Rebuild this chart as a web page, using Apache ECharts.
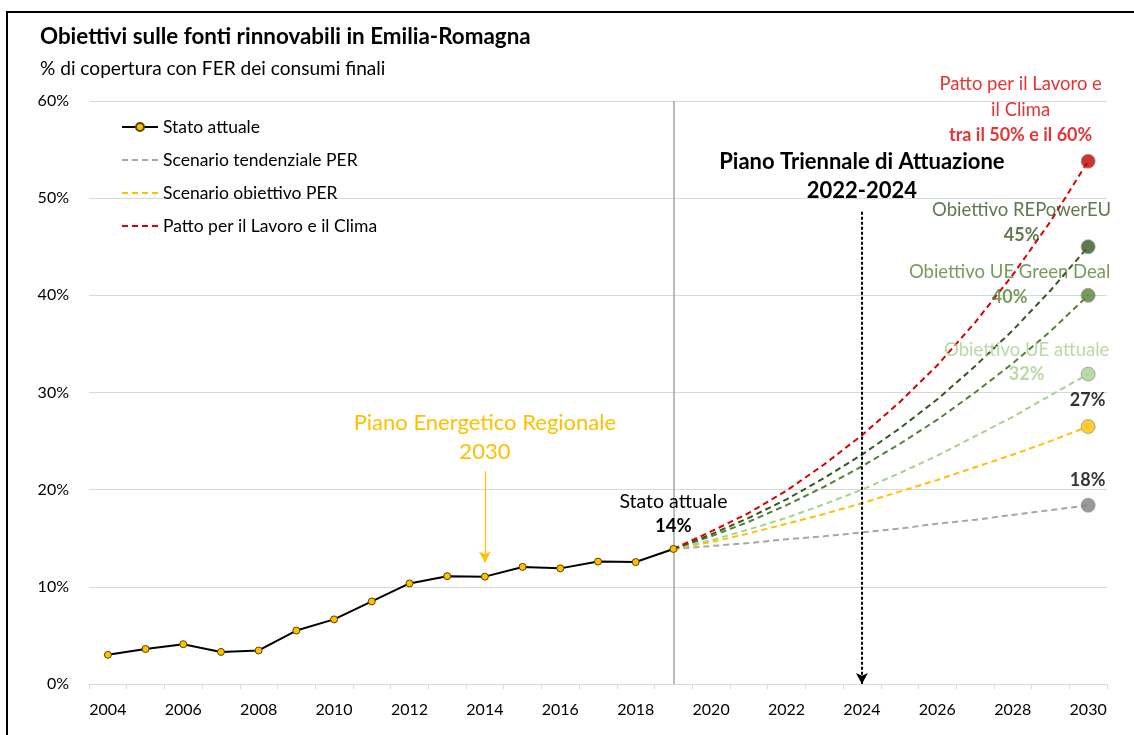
<!DOCTYPE html>
<html>
<head>
<meta charset="utf-8">
<script src="https://cdn.jsdelivr.net/npm/echarts@6/dist/echarts.min.js"></script>
<style>
  html, body { margin: 0; padding: 0; background: #fff; }
  #chart { width: 1134px; height: 735px; }
</style>
</head>
<body>
<div id="chart"></div>
<script>
// Anni sull'asse orizzontale
const years = ['2004','2005','2006','2007','2008','2009','2010','2011','2012','2013','2014','2015','2016','2017','2018','2019',
               '2020','2021','2022','2023','2024','2025','2026','2027','2028','2029','2030'];

// Quota FER sui consumi finali (%), serie storica 2004-2019
const statoAttuale = [3.0, 3.6, 4.1, 3.3, 3.45, 5.5, 6.65, 8.5, 10.35, 11.1, 11.05, 12.05, 11.9, 12.6, 12.55, 13.9];

// Scenari 2019-2030 (%)
const tendenzialePER = [13.9, 14.2, 14.5, 14.9, 15.2, 15.6, 16.0, 16.5, 16.9, 17.4, 17.9, 18.4];
const obiettivoPER   = [13.9, 14.6, 15.5, 16.5, 17.5, 18.6, 19.8, 21.0, 22.3, 23.6, 25.0, 26.5];
const ueAttuale      = [13.9, 14.8, 15.9, 17.1, 18.5, 20.0, 21.7, 23.5, 25.5, 27.5, 29.7, 31.9];
const ueGreenDeal    = [13.9, 15.2, 16.7, 18.4, 20.3, 22.4, 24.7, 27.2, 30.0, 33.0, 36.3, 40.0];
const repowerEU      = [13.9, 15.4, 17.1, 19.0, 21.2, 23.6, 26.3, 29.3, 32.7, 36.4, 40.5, 45.0];
const pattoClima     = [13.9, 15.7, 17.6, 19.9, 22.6, 25.6, 29.0, 32.8, 37.2, 42.1, 47.6, 53.8];

// Tick asse Y
const yTicks = { min: 0, max: 60, step: 10 };

const FONT = 'Lato, "Open Sans", sans-serif';
const C = {
  black: '#000000',
  grid: '#D9D9D9',
  gray: '#A6A6A6',
  grayDot: '#7F7F7F',
  yellow: '#FFC000',
  red: '#DC0000',
  redDot: '#C00000',
  redText: '#E00000',
  darkGreen: '#375623',
  green: '#548235',
  lightGreen: '#A9D18E'
};

const lead = years.indexOf('2019');
const histPad = arr => arr.concat(new Array(years.length - arr.length).fill(null));
const futPad = arr => new Array(lead).fill(null).concat(arr);
const last = arr => arr[arr.length - 1];
const pct = v => Math.round(v) + '%';

function scenario(name, data, color) {
  return {
    name: name,
    type: 'line',
    data: futPad(data),
    symbol: 'none',
    smooth: false,
    lineStyle: { color: color, width: 2, type: [6, 4] },
    itemStyle: { color: color },
    z: 3
  };
}

// Etichette dei traguardi al 2030
const endLabel = (lines, color, pctColor, pos, lh) => ({
  show: true,
  position: pos,
  align: 'center',
  verticalAlign: 'middle',
  fontFamily: FONT,
  fontSize: 18.5,
  lineHeight: lh || 25,
  color: color,
  formatter: lines,
  rich: { b: { fontFamily: FONT, fontSize: 18, fontWeight: 'bold', color: pctColor, lineHeight: lh || 25 } }
});

const endDots = [
  { value: ['2030', last(pattoClima)], itemStyle: { color: C.redDot },
    label: endLabel('Patto per il Lavoro e\nil Clima\n{b|tra il 50% e il 60%}', C.redText, C.redText, [-60, -44], 25.5) },
  { value: ['2030', last(repowerEU)], itemStyle: { color: C.darkGreen },
    label: endLabel('Obiettivo REPowerEU\n{b|' + pct(last(repowerEU)) + '}', C.darkGreen, C.darkGreen, [-59, -17]) },
  { value: ['2030', last(ueGreenDeal)], itemStyle: { color: C.green },
    label: endLabel('Obiettivo UE Green Deal\n{b|' + pct(last(ueGreenDeal)) + '}', C.green, C.green, [-71, -3.5]) },
  { value: ['2030', last(ueAttuale)], itemStyle: { color: C.lightGreen },
    label: endLabel('Obiettivo UE attuale\n{b|' + pct(last(ueAttuale)) + '}', C.lightGreen, C.lightGreen, [-54, -4.5]) },
  { value: ['2030', last(obiettivoPER)], itemStyle: { color: C.yellow },
    label: endLabel('{b|' + pct(last(obiettivoPER)) + '}', C.black, C.black, [7, -19]) },
  { value: ['2030', last(tendenzialePER)], itemStyle: { color: C.grayDot },
    label: endLabel('{b|' + pct(last(tendenzialePER)) + '}', C.black, C.black, [7, -18]) }
];

// Voci di legenda: le linee tratteggiate senza marcatore
const dashedLegend = name => ({ name: name, itemStyle: { opacity: 0 } });

const chart = echarts.init(document.getElementById('chart'), null, { renderer: 'canvas' });

chart.setOption({
  animation: false,
  backgroundColor: '#ffffff',
  textStyle: { fontFamily: FONT },
  title: {
    text: 'Obiettivi sulle fonti rinnovabili in Emilia-Romagna',
    subtext: '% di copertura con FER dei consumi finali',
    left: 35,
    top: 21,
    itemGap: 11,
    textStyle: { fontFamily: FONT, fontSize: 22.4, fontWeight: 'bold', color: '#000' },
    subtextStyle: { fontFamily: FONT, fontSize: 19.1, color: '#000' }
  },
  legend: {
    orient: 'vertical',
    left: 116,
    top: 113,
    itemWidth: 36,
    itemHeight: 10,
    itemGap: 15,
    selectedMode: false,
    data: [
      'Stato attuale',
      dashedLegend('Scenario tendenziale PER'),
      dashedLegend('Scenario obiettivo PER'),
      dashedLegend('Patto per il Lavoro e il Clima')
    ],
    textStyle: { fontFamily: FONT, fontSize: 17.5, color: '#000' }
  },
  grid: { left: 89, right: 27, top: 101, bottom: 51, containLabel: false },
  xAxis: {
    type: 'category',
    data: years,
    boundaryGap: true,
    axisLine: { lineStyle: { color: C.grid, width: 1 } },
    axisTick: { show: true, interval: 0, length: 5, lineStyle: { color: C.grid } },
    axisLabel: { interval: 1, margin: 18, fontFamily: FONT, fontSize: 16, color: '#000' },
    splitLine: { show: false }
  },
  yAxis: {
    type: 'value',
    min: yTicks.min,
    max: yTicks.max,
    interval: yTicks.step,
    axisLine: { show: false },
    axisTick: { show: false },
    axisLabel: { formatter: '{value}%', margin: 20, fontFamily: FONT, fontSize: 16, color: '#000' },
    splitLine: { lineStyle: { color: C.grid, width: 1 } }
  },
  graphic: [
    { type: 'rect', silent: true, z: 100,
      shape: { x: 7, y: 12, width: 1200, height: 800 },
      style: { fill: 'none', stroke: '#000', lineWidth: 2 } }
  ],
  series: [
    scenario('Scenario tendenziale PER', tendenzialePER, C.gray),
    scenario('Scenario obiettivo PER', obiettivoPER, C.yellow),
    scenario('Obiettivo UE attuale', ueAttuale, C.lightGreen),
    scenario('Obiettivo UE Green Deal', ueGreenDeal, C.green),
    scenario('Obiettivo REPowerEU', repowerEU, C.darkGreen),
    scenario('Patto per il Lavoro e il Clima', pattoClima, C.red),
    {
      name: 'Stato attuale',
      type: 'line',
      data: histPad(statoAttuale),
      symbol: 'circle',
      symbolSize: 7,
      showAllSymbol: true,
      lineStyle: { color: '#000', width: 2 },
      itemStyle: { color: C.yellow, borderColor: '#5a4400', borderWidth: 1 },
      z: 5,
      markLine: {
        silent: true,
        animation: false,
        label: { show: false },
        emphasis: { disabled: true },
        data: [
          [ { coord: ['2019', 0], symbol: 'none', lineStyle: { color: C.gray, width: 1.5, type: 'solid' } },
            { coord: ['2019', 60], symbol: 'none' } ],
          [ { coord: ['2014', 21.9], symbol: 'none', lineStyle: { color: C.yellow, width: 1.2, type: 'solid' } },
            { coord: ['2014', 12.5], symbol: 'arrow', symbolSize: [9, 11] } ],
          [ { coord: ['2024', 48.6], symbol: 'none', lineStyle: { color: '#000', width: 2, type: [3, 2] } },
            { coord: ['2024', 0], symbol: 'arrow', symbolSize: [9, 11] } ]
        ]
      },
      markPoint: {
        silent: true,
        symbol: 'circle',
        symbolSize: 1,
        itemStyle: { color: 'transparent' },
        data: [
          { coord: ['2014', 25.4],
            label: { show: true, position: 'inside', formatter: 'Piano Energetico Regionale\n2030',
                     fontFamily: FONT, fontSize: 22, lineHeight: 29, color: C.yellow } },
          { coord: ['2019', 17.5],
            label: { show: true, position: 'inside',
                     formatter: 'Stato attuale\n{b|' + pct(last(statoAttuale)) + '}',
                     fontFamily: FONT, fontSize: 19.5, lineHeight: 24, color: '#000',
                     rich: { b: { fontFamily: FONT, fontSize: 18.5, fontWeight: 'bold', lineHeight: 24, color: '#000' } } } },
          { coord: ['2024', 52.2],
            label: { show: true, position: 'inside', formatter: 'Piano Triennale di Attuazione\n2022-2024',
                     fontFamily: FONT, fontSize: 22, fontWeight: 'bold', lineHeight: 29, color: '#000' } }
        ]
      }
    },
    {
      name: 'Traguardi 2030',
      type: 'scatter',
      data: endDots,
      symbol: 'circle',
      symbolSize: 14,
      itemStyle: { borderColor: '#9a9a9a', borderWidth: 1 },
      z: 6
    }
  ]
});
</script>
</body>
</html>
